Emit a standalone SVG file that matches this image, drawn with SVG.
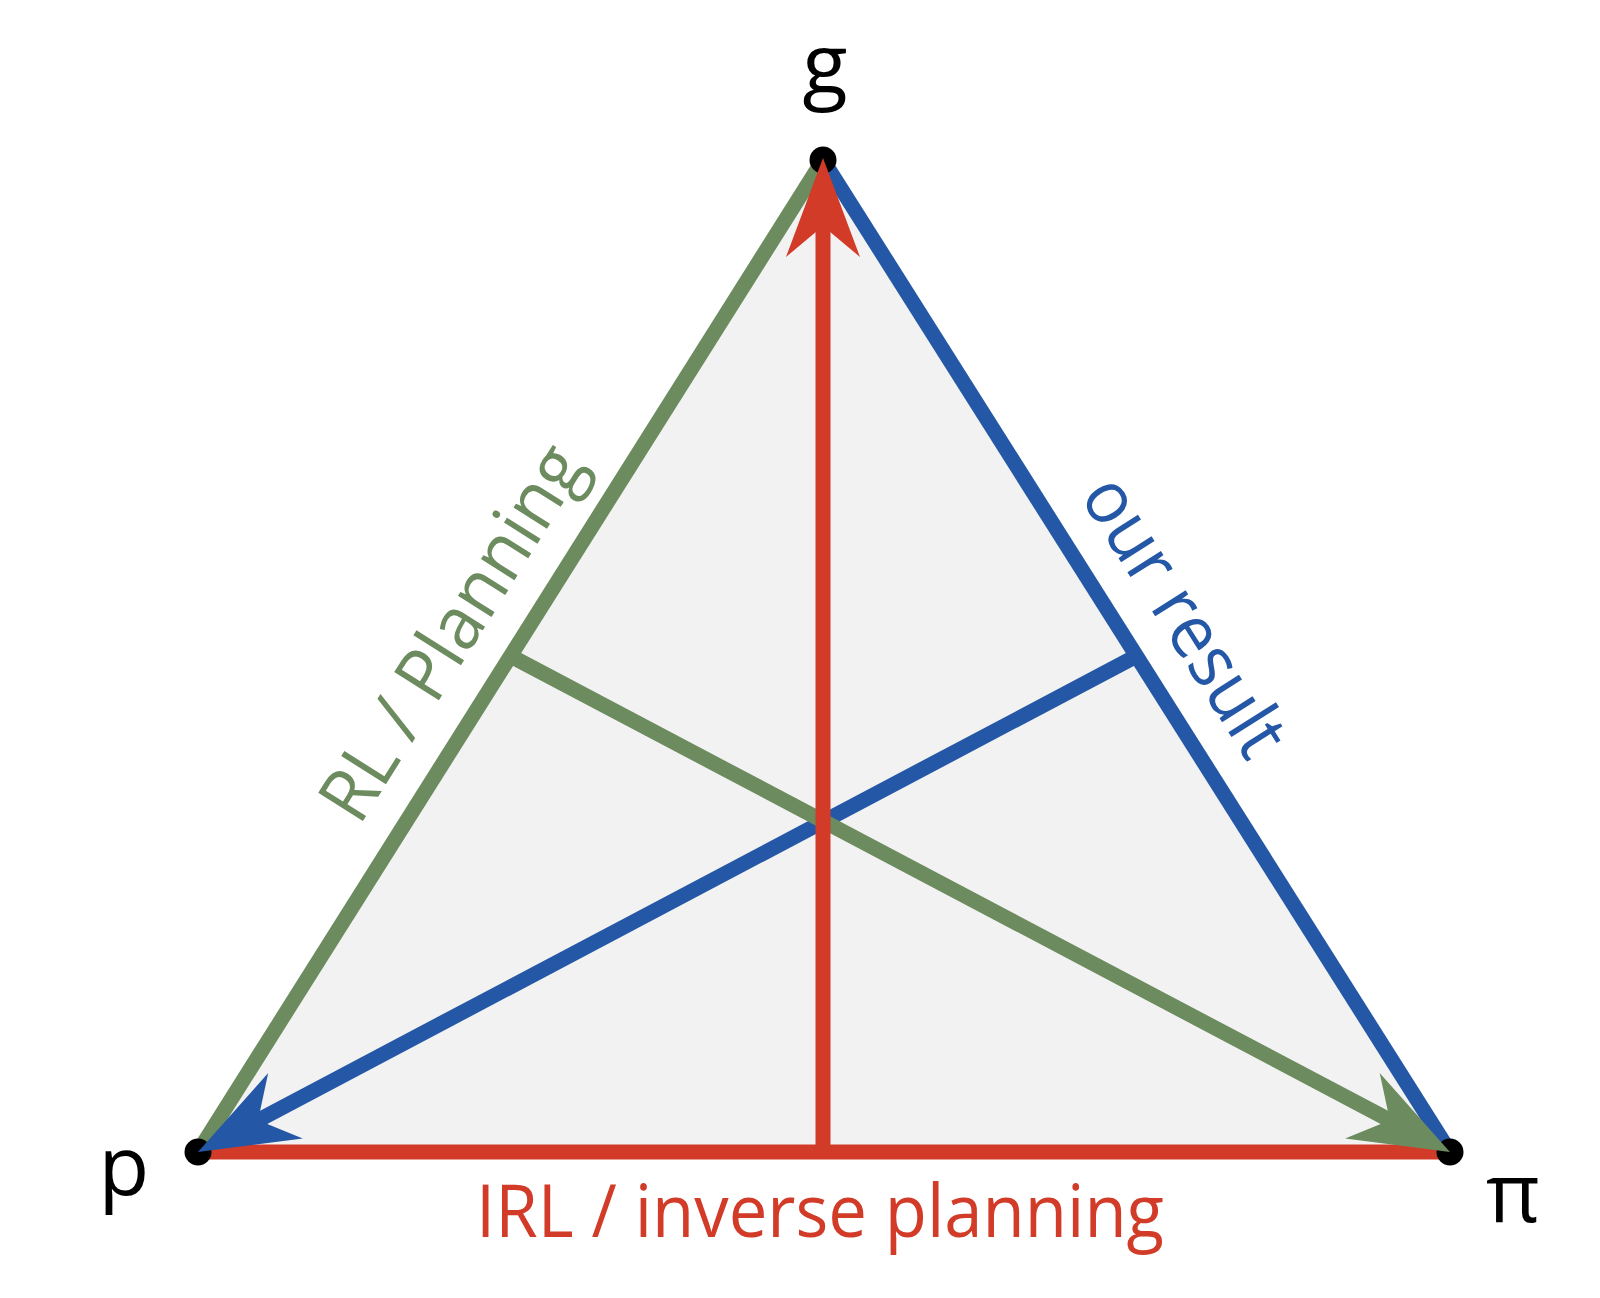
<svg xmlns="http://www.w3.org/2000/svg" width="1600" height="1298" viewBox="0 0 1600 1298">
  <style>
    .lbl { font-family: "Open Sans", "Noto Sans", "Liberation Sans", sans-serif; }
    .vtx { font-size: 83px; fill: #000000; text-anchor: middle; }
    .edge-lbl { font-size: 74px; text-anchor: middle; }
    .green { stroke: #6c8b5e; }
    .blue { stroke: #2557a7; }
    .red { stroke: #d13b28; }
    .ln { stroke-width: 15; fill: none; stroke-linecap: butt; }
  </style>
  <defs>
    <marker id="ah-red" viewBox="0 -37 99 74" markerWidth="99" markerHeight="74" refX="39" refY="0" markerUnits="userSpaceOnUse" orient="auto">
      <path d="M99,0 L0,-37 L31,0 L0,37 Z" fill="#d13b28"/>
    </marker>
    <marker id="ah-blue" viewBox="0 -37 99 74" markerWidth="99" markerHeight="74" refX="39" refY="0" markerUnits="userSpaceOnUse" orient="auto">
      <path d="M99,0 L0,-37 L31,0 L0,37 Z" fill="#2557a7"/>
    </marker>
    <marker id="ah-green" viewBox="0 -37 99 74" markerWidth="99" markerHeight="74" refX="39" refY="0" markerUnits="userSpaceOnUse" orient="auto">
      <path d="M99,0 L0,-37 L31,0 L0,37 Z" fill="#6c8b5e"/>
    </marker>
  </defs>

  <rect width="1600" height="1298" fill="#ffffff"/>

  <g id="triangle">
    <polygon points="198,1152 823,160 1450,1152" fill="#f2f2f2"/>
  </g>

  <g id="connectors">
    <line id="edge-p-g" class="ln green" x1="198" y1="1152" x2="823" y2="160"/>
    <line id="edge-g-pi" class="ln blue" x1="823" y1="160" x2="1450" y2="1152"/>
    <line id="edge-p-pi" class="ln red" x1="198" y1="1152" x2="1450" y2="1152"/>
  </g>

  <g id="node-g">
    <circle cx="823" cy="160" r="13.5" fill="#000000"/>
    <text class="lbl vtx" x="825" y="93">g</text>
  </g>
  <g id="node-p">
    <circle cx="198" cy="1152" r="13.5" fill="#000000"/>
    <text class="lbl vtx" x="124" y="1195">p</text>
  </g>
  <g id="node-pi">
    <circle cx="1450" cy="1152" r="13.5" fill="#000000"/>
    <text class="lbl vtx" x="1513" y="1222">π</text>
  </g>

  <g id="medians">
    <line class="ln blue" x1="1136.5" y1="656" x2="251" y2="1124" marker-end="url(#ah-blue)"/>
    <line class="ln green" x1="510.5" y1="656" x2="1396.9" y2="1124" marker-end="url(#ah-green)"/>
    <line class="ln red" x1="823" y1="1152" x2="823" y2="218" marker-end="url(#ah-red)"/>
  </g>

  <g id="labels">
    <text class="lbl edge-lbl" fill="#6c8b5e" transform="translate(473.2,645.8) rotate(-57.79)" textLength="428" lengthAdjust="spacingAndGlyphs">RL / Planning</text>
    <text class="lbl edge-lbl" fill="#2557a7" transform="translate(1163.5,629.5) rotate(57.71)" textLength="316" lengthAdjust="spacingAndGlyphs">our result</text>
    <text class="lbl edge-lbl" fill="#d13b28" x="820" y="1237" textLength="688" lengthAdjust="spacingAndGlyphs">IRL / inverse planning</text>
  </g>
</svg>
